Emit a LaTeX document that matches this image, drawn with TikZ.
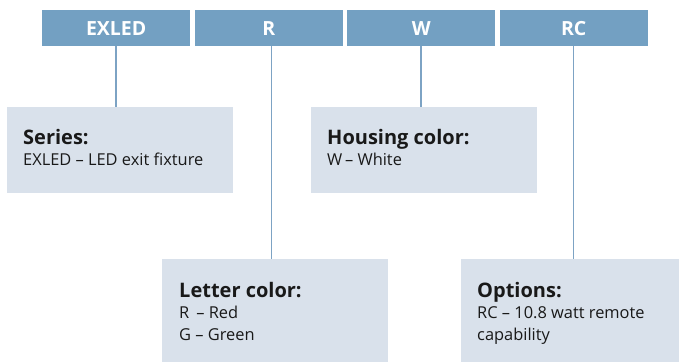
\documentclass[tikz,border=0pt]{standalone}
\usepackage{fontspec}
\setmainfont{Open Sans}
\definecolor{topblue}{RGB}{115,160,194}
\definecolor{lightbox}{RGB}{217,225,235}
\definecolor{linkblue}{RGB}{125,163,196}
\definecolor{bodytext}{RGB}{25,25,25}
\newcommand{\hd}[1]{{\fontsize{20}{21}\selectfont\bfseries #1}}
\begin{document}
\begin{tikzpicture}[x=1pt,y=-1pt,
  topbox/.style={fill=topblue,text=white,font=\fontsize{19.5}{22}\selectfont\bfseries,
    minimum width=148pt,minimum height=36pt,inner sep=0pt,anchor=north west},
  infobox/.style={fill=lightbox,minimum width=226pt,minimum height=86pt,inner sep=0pt,anchor=north west},
  infotext/.style={anchor=base west,inner sep=0pt,align=left,text=bodytext,
    font=\fontsize{16.4}{21.5}\selectfont},
  link/.style={draw=linkblue,line width=1.5pt}]
\useasboundingbox (0,0) rectangle (679,362);
% top code boxes
\node[topbox] (exled) at (42,10) {EXLED};
\node[topbox] (r) at (194.5,10) {R};
\node[topbox] (w) at (347,10) {W};
\node[topbox] (rc) at (499.5,10) {RC};
% description boxes
\node[infobox] (series) at (7,107) {};
\node[infobox] (housing) at (311,107) {};
\node[infobox,minimum height=103pt] (letter) at (162,259) {};
\node[infobox,minimum width=218pt,minimum height=103pt] (options) at (461,259) {};
% texts (anchored at the baseline of the last line)
\node[infotext] (seriest) at ([xshift=16pt,yshift=-58.5pt]series.north west)
  {\hd{Series:}\\EXLED -- LED exit fixture};
\node[infotext] (housingt) at ([xshift=16pt,yshift=-58.5pt]housing.north west)
  {\hd{Housing color:}\\W\,-- White};
\node[infotext] (lettert) at ([xshift=17pt,yshift=-81pt]letter.north west)
  {\hd{Letter color:}\\R\ \,-- Red\\G -- Green};
\node[infotext] (optionst) at ([xshift=16pt,yshift=-81pt]options.north west)
  {\hd{Options:}\\RC -- 10.8 watt remote\\capability};
% connectors
\draw[link] (exled.south) -- (exled.south |- series.north);
\draw[link] ([xshift=3pt]r.south) -- ([xshift=3pt]r.south |- letter.north);
\draw[link] (w.south) -- (w.south |- housing.north);
\draw[link] (rc.south) -- (rc.south |- options.north);
\end{tikzpicture}
\end{document}
